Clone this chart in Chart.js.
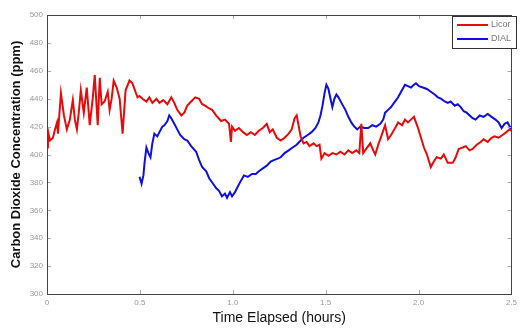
<!DOCTYPE html>
<html>
<head>
<meta charset="utf-8">
<script src="https://cdn.jsdelivr.net/npm/chart.js@4.4.1/dist/chart.umd.min.js"></script>
<style>
  html, body { margin: 0; padding: 0; background: #fff; }
  #wrap { width: 521px; height: 329px; }
</style>
</head>
<body>
<div id="wrap"><canvas id="myChart" width="521" height="329"></canvas></div>
<script>
// series names
var seriesNames = ["Licor", "DIAL"];

// Licor readings (hours, ppm)
var licorHours = [0.000, 0.005, 0.016, 0.032, 0.043, 0.054, 0.059, 0.075, 0.091, 0.107, 0.123, 0.139, 0.150, 0.161, 0.171, 0.182, 0.198, 0.214, 0.230, 0.246,
  0.257, 0.273, 0.284, 0.294, 0.310, 0.327, 0.337, 0.348, 0.359, 0.375, 0.391, 0.407, 0.423, 0.444, 0.460, 0.476, 0.487, 0.498, 0.514, 0.535,
  0.551, 0.567, 0.589, 0.605, 0.626, 0.648, 0.669, 0.685, 0.701, 0.723, 0.739, 0.755, 0.776, 0.798, 0.819, 0.835, 0.851, 0.873, 0.889, 0.910,
  0.937, 0.958, 0.980, 0.990, 0.996, 1.012, 1.033, 1.055, 1.076, 1.097, 1.119, 1.140, 1.162, 1.183, 1.199, 1.215, 1.237, 1.258, 1.279, 1.301,
  1.317, 1.333, 1.344, 1.354, 1.365, 1.381, 1.397, 1.413, 1.435, 1.451, 1.467, 1.477, 1.494, 1.515, 1.536, 1.558, 1.579, 1.601, 1.622, 1.643,
  1.665, 1.681, 1.692, 1.702, 1.718, 1.740, 1.756, 1.767, 1.783, 1.799, 1.820, 1.836, 1.852, 1.874, 1.890, 1.911, 1.927, 1.943, 1.959, 1.975,
  1.986, 1.997, 2.013, 2.029, 2.045, 2.066, 2.082, 2.098, 2.120, 2.136, 2.157, 2.184, 2.200, 2.216, 2.238, 2.254, 2.275, 2.291, 2.313, 2.334,
  2.350, 2.372, 2.393, 2.409, 2.431, 2.452, 2.473, 2.489, 2.500];
var licorPpm = [405, 417, 410, 412, 418, 423, 415, 444, 428, 418, 425, 439, 425, 418, 430, 446, 430, 448, 421, 440,
  457, 421, 455, 436, 438, 445, 432, 440, 453, 448, 440, 415, 446, 453, 451, 445, 441, 442, 440, 438,
  441, 437, 440, 437, 439, 436, 441, 437, 432, 428, 430, 435, 438, 441, 440, 436, 435, 433, 432, 428,
  424, 425, 422, 409, 420, 417, 419, 416, 414, 416, 414, 417, 419, 422, 416, 418, 412, 410, 412, 415,
  418, 426, 428, 421, 413, 408, 409, 406, 408, 406, 407, 397, 401, 399, 401, 400, 402, 400, 403, 401,
  403, 401, 422, 401, 404, 408, 403, 400, 407, 413, 421, 411, 414, 419, 423, 421, 425, 423, 425, 427,
  423, 419, 412, 405, 400, 391, 395, 398, 397, 400, 394, 394, 398, 404, 405, 406, 403, 404, 407, 409,
  411, 409, 412, 413, 412, 414, 416, 418, 417];

// DIAL readings (hours, ppm)
var dialHours = [0.498, 0.509, 0.519, 0.525, 0.535, 0.546, 0.557, 0.567, 0.578, 0.594, 0.605, 0.621, 0.632, 0.648, 0.658, 0.669, 0.685, 0.701, 0.717, 0.739,
  0.755, 0.776, 0.803, 0.819, 0.835, 0.857, 0.873, 0.894, 0.910, 0.926, 0.942, 0.958, 0.969, 0.985, 0.996, 1.012, 1.023, 1.039, 1.060, 1.081,
  1.103, 1.124, 1.140, 1.162, 1.183, 1.204, 1.221, 1.242, 1.258, 1.279, 1.301, 1.322, 1.344, 1.365, 1.381, 1.403, 1.424, 1.445, 1.461, 1.472,
  1.483, 1.494, 1.504, 1.515, 1.526, 1.536, 1.547, 1.558, 1.569, 1.585, 1.606, 1.622, 1.638, 1.654, 1.670, 1.686, 1.708, 1.729, 1.751, 1.772,
  1.794, 1.810, 1.820, 1.836, 1.852, 1.868, 1.890, 1.906, 1.927, 1.943, 1.959, 1.975, 1.986, 2.002, 2.023, 2.045, 2.066, 2.087, 2.104, 2.120,
  2.141, 2.157, 2.173, 2.195, 2.211, 2.227, 2.243, 2.259, 2.275, 2.291, 2.307, 2.329, 2.350, 2.372, 2.393, 2.414, 2.431, 2.447, 2.463, 2.479,
  2.495, 2.500];
var dialPpm = [384, 379, 385, 394, 405, 401, 398, 408, 415, 413, 416, 420, 421, 424, 428, 426, 422, 418, 414, 411,
  410, 406, 402, 396, 391, 388, 383, 379, 376, 374, 370, 372, 369, 373, 370, 373, 376, 380, 385, 384,
  386, 386, 388, 390, 392, 395, 396, 397, 398, 401, 403, 405, 407, 410, 412, 414, 416, 419, 423, 428,
  435, 444, 450, 447, 440, 434, 440, 443, 441, 437, 432, 427, 423, 420, 418, 420, 419, 419, 421, 420,
  422, 425, 430, 432, 434, 437, 441, 445, 450, 449, 448, 450, 451, 449, 448, 447, 445, 443, 441, 440,
  438, 437, 438, 435, 436, 434, 431, 430, 428, 426, 425, 428, 427, 429, 427, 425, 423, 419, 422, 423,
  419, 420];

var lineColors = ["rgb(232,10,10)", "rgb(15,15,225)"];

function toPoints(xs, ys) {
    let pts = [];
    for (let i = 0; i < xs.length; ++i) {
        pts.push({ x: xs[i], y: ys[i] });
    }
    return pts;
}

const fontFam = "'Liberation Sans', Arial, sans-serif";

// ticks pointing into the plot, plus the box around it
const boxTicks = {
    id: "boxTicks",
    afterDraw(chart) {
        const ctx = chart.ctx;
        const a = chart.chartArea;
        const xs = chart.scales.x, ys = chart.scales.y;
        ctx.save();
        ctx.strokeStyle = "#aaa";
        ctx.lineWidth = 1;
        ctx.beginPath();
        xs.ticks.forEach(function (t) {
            let px = Math.round(xs.getPixelForValue(t.value)) + 0.5;
            ctx.moveTo(px, a.bottom); ctx.lineTo(px, a.bottom - 4);
            ctx.moveTo(px, a.top); ctx.lineTo(px, a.top + 4);
        });
        ys.ticks.forEach(function (t) {
            let py = Math.round(ys.getPixelForValue(t.value)) + 0.5;
            ctx.moveTo(a.left, py); ctx.lineTo(a.left + 4, py);
            ctx.moveTo(a.right, py); ctx.lineTo(a.right - 4, py);
        });
        ctx.stroke();
        ctx.strokeStyle = "#444";
        ctx.strokeRect(Math.round(a.left) + 0.5, Math.round(a.top) + 0.5,
            Math.round(a.right - a.left), Math.round(a.bottom - a.top));

        // legend box at the top right corner
        const lx = 452, ly = 16, lw = 64, lh = 32;
        ctx.fillStyle = "#fff";
        ctx.fillRect(lx, ly, lw, lh);
        ctx.strokeStyle = "#333";
        ctx.strokeRect(lx + 0.5, ly + 0.5, lw, lh);
        ctx.font = "9px " + fontFam;
        ctx.textBaseline = "middle";
        chart.data.datasets.forEach(function (ds, i) {
            let yy = ly + 9 + i * 14;
            ctx.strokeStyle = ds.borderColor;
            ctx.lineWidth = 2;
            ctx.beginPath();
            ctx.moveTo(lx + 5, yy); ctx.lineTo(lx + 36, yy);
            ctx.stroke();
            ctx.fillStyle = "#777";
            ctx.fillText(ds.label, lx + 39, yy);
        });
        ctx.restore();
    }
};

const config = {
    type: "line",
    data: {
        datasets: [{
            label: seriesNames[0],
            data: toPoints(licorHours, licorPpm),
            borderColor: lineColors[0],
            borderWidth: 2,
            pointRadius: 0,
            tension: 0
        }, {
            label: seriesNames[1],
            data: toPoints(dialHours, dialPpm),
            borderColor: lineColors[1],
            borderWidth: 2,
            pointRadius: 0,
            tension: 0
        }]
    },
    options: {
        responsive: false,
        animation: false,
        layout: { padding: { left: 0, right: 7, top: 15, bottom: 0 } },
        plugins: { legend: { display: false }, tooltip: { enabled: false } },
        scales: {
            x: {
                type: "linear",
                min: 0, max: 2.5,
                grid: { display: false, drawTicks: false },
                border: { display: false },
                ticks: { stepSize: 0.5, padding: 4, color: "#999", font: { size: 8, family: fontFam } },
                title: { display: true, text: "Time Elapsed (hours)", color: "#111",
                    font: { size: 14, family: fontFam }, padding: { top: 0, bottom: 2 } },
                afterFit: function (scale) { scale.height = 35; }
            },
            y: {
                min: 300, max: 500,
                grid: { display: false, drawTicks: false },
                border: { display: false },
                ticks: { stepSize: 20, padding: 4, color: "#999", font: { size: 8, family: fontFam } },
                title: { display: true, text: "Carbon Dioxide Concentration (ppm)", color: "#111",
                    font: { size: 13, weight: "bold", family: fontFam }, padding: { top: 9, bottom: 0 } },
                afterFit: function (scale) { scale.width = 47; }
            }
        }
    },
    plugins: [boxTicks]
};

const rendering = document.getElementById("myChart").getContext("2d");
let renderingChart = new Chart(rendering, config);
</script>
</body>
</html>
